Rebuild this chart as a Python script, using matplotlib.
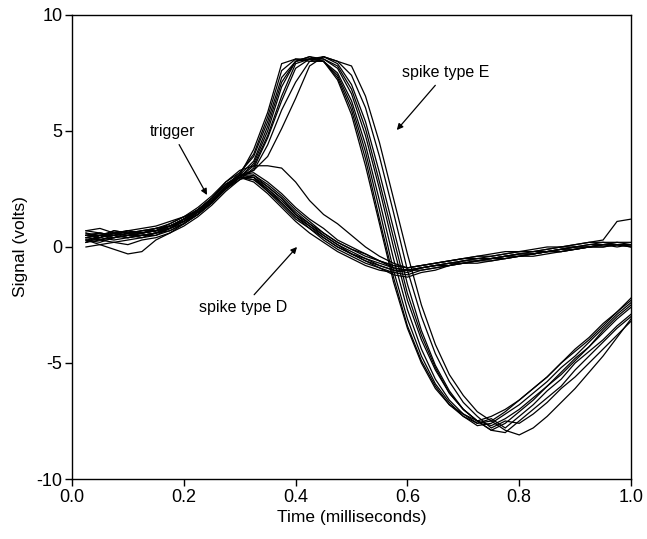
import matplotlib
matplotlib.use("Agg")
import matplotlib.pyplot as plt

plt.rcParams['font.family'] = ['Liberation Sans', 'DejaVu Sans']

# sample times (ms)
time_ms = [0.025, 0.05, 0.075, 0.1, 0.125, 0.15, 0.175, 0.2, 0.225, 0.25,
           0.275, 0.3, 0.325, 0.35, 0.375, 0.4, 0.425, 0.45, 0.475, 0.5,
           0.525, 0.55, 0.575, 0.6, 0.625, 0.65, 0.675, 0.7, 0.725, 0.75,
           0.775, 0.8, 0.825, 0.85, 0.875, 0.9, 0.925, 0.95, 0.975, 1.0]

# spike type E traces (volts)
E1 = [0.5, 0.6, 0.5, 0.7, 0.6, 0.7, 0.9, 1.2, 1.5, 2.0, 2.6, 3.1,
      4.2, 5.8, 7.9, 8.1, 8.1,
      8.0, 7.3, 5.9, 3.8, 1.2, -1.3, -3.4, -4.9, -6.0, -6.8, -7.3, -7.6,
      -7.5, -7.1, -6.6, -6.1, -5.6, -5.0, -4.4, -3.9, -3.3, -2.8, -2.2]
E2 = [0.3, 0.4, 0.6, 0.5, 0.7, 0.8, 0.9, 1.1, 1.6, 2.1, 2.7, 3.0,
      3.6, 5.0, 6.9, 8.0, 8.2,
      8.1, 7.7, 6.6, 4.8, 2.5, 0.0, -2.3, -4.0, -5.3, -6.3, -7.0, -7.5,
      -7.9, -7.6, -7.1, -6.6, -6.0, -5.4, -4.8, -4.3, -3.7, -3.1, -2.6]
E3 = [0.6, 0.3, 0.4, 0.6, 0.5, 0.6, 0.8, 1.2, 1.5, 1.9, 2.5, 3.1,
      3.3, 4.4, 5.9, 7.1, 8.0,
      8.2, 7.9, 7.0, 5.4, 3.2, 0.8, -1.6, -3.6, -5.1, -6.2, -7.0, -7.5,
      -7.9, -8.0, -7.5, -7.0, -6.5, -6.0, -5.3, -4.7, -4.1, -3.5, -3.0]
E4 = [0.4, 0.5, 0.4, 0.5, 0.6, 0.7, 0.8, 1.1, 1.4, 1.9, 2.6, 3.0,
      3.3, 3.9, 5.1, 6.4, 7.8,
      8.2, 8.0, 7.8, 6.5, 4.5, 2.1, -0.3, -2.5, -4.2, -5.5, -6.4, -7.1,
      -7.5, -7.9, -8.1, -7.8, -7.3, -6.7, -6.1, -5.4, -4.7, -3.9, -3.1]
E5 = [0.2, 0.5, 0.5, 0.4, 0.5, 0.6, 0.9, 1.2, 1.6, 2.0, 2.6, 3.2,
      3.9, 5.4, 7.3, 8.0, 8.1,
      8.0, 7.4, 6.1, 4.1, 1.6, -1.0, -3.1, -4.7, -5.9, -6.7, -7.3, -7.7,
      -7.6, -7.2, -6.8, -6.3, -5.8, -5.2, -4.7, -4.1, -3.5, -2.9, -2.4]
E6 = [0.5, 0.4, 0.7, 0.6, 0.6, 0.7, 1.0, 1.3, 1.5, 2.0, 2.5, 2.9,
      3.4, 4.7, 6.3, 7.7, 8.1,
      8.1, 7.8, 6.8, 5.1, 2.8, 0.4, -2.0, -3.8, -5.2, -6.3, -7.0, -7.5,
      -7.7, -7.4, -7.0, -6.5, -6.0, -5.5, -4.9, -4.3, -3.6, -3.0, -2.5]
E7 = [0.7, 0.6, 0.5, 0.6, 0.7, 0.7, 0.9, 1.2, 1.6, 2.1, 2.7, 3.1,
      3.7, 5.2, 7.1, 8.0, 8.2,
      8.0, 7.5, 6.3, 4.4, 2.0, -0.5, -2.7, -4.4, -5.7, -6.6, -7.2, -7.6,
      -7.4, -7.8, -7.3, -6.8, -6.2, -5.7, -5.0, -4.5, -4.0, -3.4, -2.9]
E8 = [0.3, 0.2, 0.4, 0.5, 0.5, 0.6, 0.8, 1.0, 1.4, 1.9, 2.5, 3.0,
      3.5, 4.8, 6.5, 7.9, 8.1,
      8.2, 8.0, 7.4, 6.0, 3.9, 1.5, -1.0, -3.0, -4.6, -5.8, -6.7, -7.3,
      -7.8, -7.5, -7.6, -7.2, -6.7, -6.1, -5.6, -5.0, -4.4, -3.8, -3.2]
E9 = [0.5, 0.5, 0.6, 0.7, 0.6, 0.8, 1.0, 1.3, 1.7, 2.2, 2.8, 3.2,
      4.0, 5.6, 7.6, 8.1, 8.0,
      8.0, 7.2, 5.7, 3.5, 1.0, -1.5, -3.5, -5.0, -6.1, -6.8, -7.2, -7.5,
      -7.3, -7.0, -6.6, -6.1, -5.6, -5.0, -4.5, -4.0, -3.4, -2.8, -2.3]

# spike type D traces (volts)
D1 = [0.4, 0.3, 0.5, 0.4, 0.5, 0.6, 0.8, 1.1, 1.5, 2.0, 2.6, 3.1,
      3.0, 2.6, 2.1, 1.5, 1.0, 0.5, 0.1, -0.3, -0.6, -0.8,
      -1.0, -1.1, -0.9, -0.8, -0.7, -0.6, -0.5, -0.5, -0.4, -0.3,
      -0.3, -0.2, -0.1, 0.0, 0.1, 0.1, 0.2, 0.1]
D2 = [0.2, 0.3, 0.2, 0.3, 0.4, 0.5, 0.7, 1.0, 1.4, 1.9, 2.5, 3.0,
      2.9, 2.4, 1.8, 1.2, 0.8, 0.3, -0.1, -0.4, -0.7, -0.9,
      -1.1, -1.2, -1.0, -0.9, -0.8, -0.7, -0.7, -0.6, -0.5, -0.4,
      -0.4, -0.3, -0.2, -0.1, 0.0, 0.0, 0.1, 0.0]
D3 = [0.6, 0.5, 0.7, 0.6, 0.7, 0.8, 0.9, 1.2, 1.6, 2.1, 2.8, 3.3,
      3.5, 3.5, 3.4, 2.8, 2.0, 1.4, 1.0, 0.5, 0.0, -0.4,
      -0.7, -0.9, -0.8, -0.7, -0.6, -0.5, -0.4, -0.3, -0.2, -0.2,
      -0.1, 0.0, 0.0, 0.1, 0.2, 0.2, 0.1, 0.1]
D4 = [0.0, 0.1, 0.2, 0.1, 0.3, 0.4, 0.6, 0.9, 1.3, 1.8, 2.4, 2.9,
      3.1, 2.7, 2.2, 1.6, 1.1, 0.6, 0.2, -0.1, -0.4, -0.6,
      -0.8, -0.9, -0.8, -0.7, -0.6, -0.5, -0.4, -0.4, -0.3, -0.2,
      -0.2, -0.1, 0.0, 0.1, 0.2, 0.3, 1.1, 1.2]
D5 = [0.5, 0.6, 0.5, 0.7, 0.6, 0.7, 0.8, 1.1, 1.5, 1.9, 2.5, 3.0,
      2.9, 2.5, 1.9, 1.3, 0.9, 0.4, 0.0, -0.3, -0.5, -0.8,
      -1.0, -1.0, -0.9, -0.8, -0.8, -0.6, -0.6, -0.5, -0.4, -0.3,
      -0.3, -0.2, -0.1, -0.1, 0.0, 0.1, 0.0, 0.1]
D6 = [0.3, 0.1, -0.1, -0.3, -0.2, 0.3, 0.6, 1.0, 1.4, 1.9, 2.5, 3.0,
      3.0, 2.4, 1.9, 1.3, 0.8, 0.4, 0.0, -0.3, -0.6, -0.9,
      -1.2, -1.3, -1.1, -1.0, -0.8, -0.7, -0.6, -0.6, -0.5, -0.4,
      -0.3, -0.2, -0.2, -0.1, 0.0, 0.0, 0.1, 0.1]
D7 = [0.7, 0.8, 0.6, 0.7, 0.8, 0.9, 1.1, 1.3, 1.6, 2.1, 2.7, 3.1,
      3.1, 2.6, 2.1, 1.4, 1.0, 0.6, 0.2, -0.1, -0.3, -0.6,
      -0.8, -0.9, -0.8, -0.7, -0.6, -0.5, -0.5, -0.4, -0.3, -0.2,
      -0.2, -0.1, 0.0, 0.0, 0.1, 0.2, 0.2, 0.2]
D8 = [0.4, 0.5, 0.4, 0.5, 0.4, 0.6, 0.7, 1.0, 1.5, 2.0, 2.6, 3.1,
      3.2, 2.8, 2.3, 1.7, 1.2, 0.8, 0.3, 0.0, -0.3, -0.6,
      -0.9, -1.0, -0.9, -0.8, -0.7, -0.6, -0.5, -0.5, -0.4, -0.3,
      -0.2, -0.2, -0.1, 0.0, 0.0, 0.1, 0.1, 0.0]
D9 = [0.2, 0.4, 0.3, 0.4, 0.5, 0.5, 0.8, 1.2, 1.6, 2.0, 2.6, 3.0,
      2.8, 2.3, 1.7, 1.1, 0.6, 0.2, -0.2, -0.5, -0.8, -1.0,
      -1.1, -1.0, -0.9, -0.8, -0.7, -0.7, -0.6, -0.5, -0.4, -0.4,
      -0.3, -0.2, -0.1, 0.0, 0.0, 0.1, 0.1, 0.1]
D10 = [0.5, 0.4, 0.6, 0.5, 0.6, 0.7, 0.9, 1.1, 1.5, 2.0, 2.6, 3.0,
       3.0, 2.5, 2.0, 1.4, 0.9, 0.5, 0.1, -0.2, -0.5, -0.7,
       -0.9, -1.0, -1.0, -0.9, -0.8, -0.7, -0.6, -0.5, -0.5, -0.4,
       -0.3, -0.2, -0.2, -0.1, 0.0, 0.1, 0.1, 0.1]

traces_E = [E1, E2, E3, E4, E5, E6, E7, E8, E9]
traces_D = [D1, D2, D3, D4, D5, D6, D7, D8, D9, D10]

x_ticks = [0.0, 0.2, 0.4, 0.6, 0.8, 1.0]
x_ticklabels = ["0.0", "0.2", "0.4", "0.6", "0.8", "1.0"]
y_ticks = [-10, -5, 0, 5, 10]
y_ticklabels = ["-10", "-5", "0", "5", "10"]

fig = plt.figure(figsize=(6.47, 5.39), dpi=100)
ax = fig.add_axes([0.1113, 0.1113, 0.864, 0.861])

for tr in traces_D + traces_E:
    ax.plot(time_ms, tr, color='black', lw=0.9, solid_joinstyle='miter')

ax.set_xlim(0, 1.0)
ax.set_ylim(-10, 10)
ax.set_xticks(x_ticks)
ax.set_xticklabels(x_ticklabels)
ax.set_yticks(y_ticks)
ax.set_yticklabels(y_ticklabels)
ax.tick_params(direction='out', length=5, width=1, labelsize=13, pad=2)
for s in ax.spines.values():
    s.set_linewidth(1.0)

ax.set_xlabel("Time (milliseconds)", fontsize=12.5, labelpad=3)
ax.set_ylabel("Signal (volts)", fontsize=12.5, labelpad=6)

arrow = dict(arrowstyle='-|>', lw=0.9, color='black', mutation_scale=9,
             shrinkA=2, shrinkB=0)
ax.annotate("trigger", xy=(0.2415, 2.24), xytext=(0.179, 4.96),
            ha='center', va='center', fontsize=11.5, arrowprops=arrow)
ax.annotate("spike type E", xy=(0.581, 5.04), xytext=(0.669, 7.5),
            ha='center', va='center', fontsize=11.5, arrowprops=arrow)
ax.annotate("spike type D", xy=(0.4025, 0.0), xytext=(0.306, -2.59),
            ha='center', va='center', fontsize=11.5, arrowprops=arrow)

fig.savefig("out.png", dpi=100)
